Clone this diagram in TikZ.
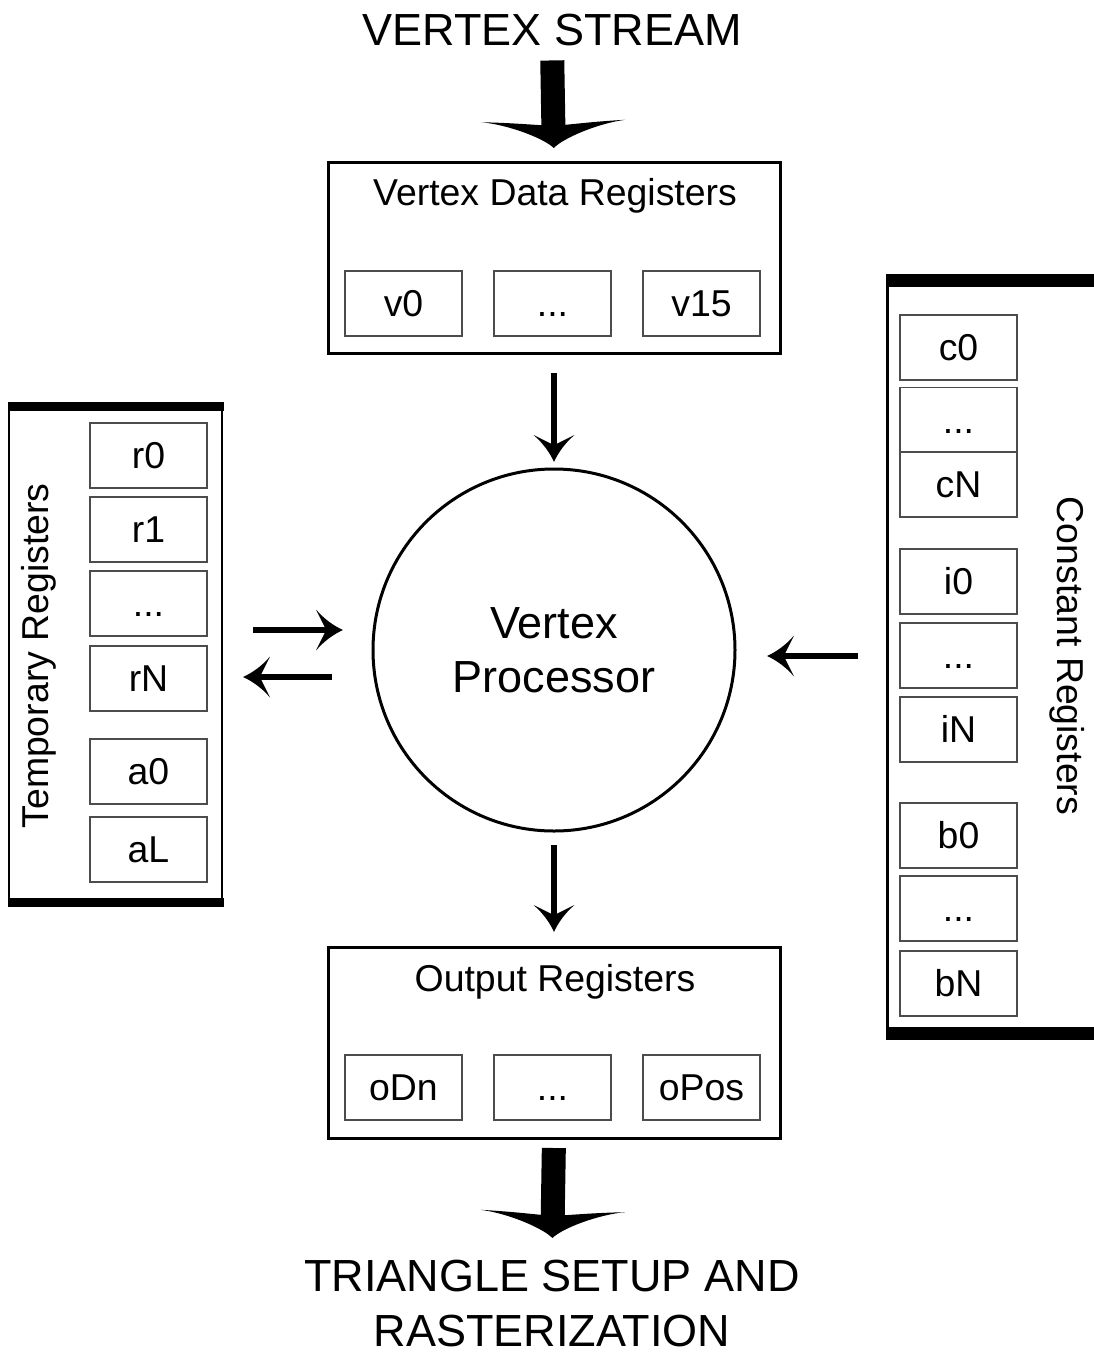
\documentclass[tikz,border=0pt]{standalone}
\usepackage{fontspec}
\setmainfont{Liberation Sans}
\usetikzlibrary{arrows.meta}

\newcommand\myRegFont{\fontsize{37.4}{44}\selectfont}
\newcommand\myBigFont{\fontsize{45}{54}\selectfont}
\newcommand\myBigFontB{\fontsize{45}{55}\selectfont}

\pgfdeclarearrow{
  name = SmallHead,
  setup code = {
    \pgfarrowssettipend{0pt}
    \pgfarrowssetlineend{-16pt}
    \pgfarrowssetbackend{-27pt}
    \pgfarrowssetvisualbackend{-17pt}
  },
  drawing code = {
    \pgfpathmoveto{\pgfpointorigin}
    \pgfpathcurveto{\pgfpoint{-9pt}{4pt}}{\pgfpoint{-19pt}{11pt}}{\pgfpoint{-27pt}{20.5pt}}
    \pgfpathcurveto{\pgfpoint{-23pt}{12pt}}{\pgfpoint{-19pt}{5pt}}{\pgfpoint{-17pt}{0pt}}
    \pgfpathcurveto{\pgfpoint{-19pt}{-5pt}}{\pgfpoint{-23pt}{-12pt}}{\pgfpoint{-27pt}{-20.5pt}}
    \pgfpathcurveto{\pgfpoint{-19pt}{-11pt}}{\pgfpoint{-9pt}{-4pt}}{\pgfpointorigin}
    \pgfpathclose
    \pgfusepathqfill
  }
}

\pgfdeclarearrow{
  name = BigHead,
  setup code = {
    \pgfarrowssettipend{0pt}
    \pgfarrowssetlineend{-22pt}
    \pgfarrowssetbackend{-27pt}
    \pgfarrowssetvisualbackend{-23pt}
  },
  drawing code = {
    \pgfpathmoveto{\pgfpointorigin}
    \pgfpathcurveto{\pgfpoint{-10pt}{10pt}}{\pgfpoint{-24pt}{45pt}}{\pgfpoint{-27pt}{72pt}}
    \pgfpathcurveto{\pgfpoint{-26pt}{45pt}}{\pgfpoint{-24pt}{25pt}}{\pgfpoint{-23pt}{12pt}}
    \pgfpathlineto{\pgfpoint{-23pt}{-12pt}}
    \pgfpathcurveto{\pgfpoint{-24pt}{-25pt}}{\pgfpoint{-26pt}{-45pt}}{\pgfpoint{-27pt}{-72pt}}
    \pgfpathcurveto{\pgfpoint{-24pt}{-45pt}}{\pgfpoint{-10pt}{-10pt}}{\pgfpointorigin}
    \pgfpathclose
    \pgfusepathqfill
  }
}

\tikzset{
  box/.style={draw, line width=3pt, minimum width=452pt, minimum height=191pt, inner sep=0pt, outer sep=0pt},
  cell/.style={draw=black!70, line width=1.5pt, minimum width=117pt, minimum height=65pt, inner sep=0pt, outer sep=0pt, font=\myRegFont, text height=26.8pt, text depth=0pt},
  arr/.style={line width=6pt, -{SmallHead}},
  bigarr/.style={line width=24pt, -{BigHead}},
  lbl/.style={font=\myRegFont, inner sep=0pt, outer sep=0pt},
  bar/.style={fill=black},
}

\begin{document}
\begin{tikzpicture}[x=1pt, y=-1pt]
\useasboundingbox (0,0) rectangle (1094,1353);

% titles
\node[font=\myBigFont, inner sep=0pt, outer sep=0pt, anchor=base] (title) at (552,45) {VERTEX STREAM};
\node[font=\myBigFontB, inner sep=0pt, outer sep=0pt, anchor=north, align=center] (bottom) at (552,1260) {TRIANGLE SETUP AND\\RASTERIZATION};

% vertex data registers
\node[box] (vdr) at (554,257.5) {};
\node[lbl, anchor=base] (vdrlbl) at (555,205) {Vertex Data Registers};
\node[cell] (v0) at (403.5,303.5) {v0};
\node[cell] (vdots) at (552.5,303.5) {...};
\node[cell] (v15) at (701.5,303.5) {v15};

% output registers
\node[box] (out) at (554,1042.5) {};
\node[lbl, anchor=base] (outlbl) at (555,991) {Output Registers};
\node[cell] (oDn) at (403.5,1087.5) {oDn};
\node[cell] (odots) at (552.5,1087.5) {...};
\node[cell] (oPos) at (701.5,1087.5) {oPos};

% vertex processor
\node[circle, draw, line width=3pt, minimum size=362pt, inner sep=0pt, outer sep=0pt, align=center, font=\myBigFont] (vp) at (554,650) {Vertex\\Processor};

% temporary registers panel
\node[draw, line width=2.5pt, minimum width=213pt, minimum height=495pt, inner sep=0pt, outer sep=0pt] (tmp) at (115.5,654.5) {};
\fill[bar] (8,402) rectangle (223.5,411);
\fill[bar] (8,898) rectangle (223.5,907);
\node[lbl, rotate=90, anchor=base] (tmplbl) at (48,656) {Temporary Registers};
\node[cell] (r0) at (148.5,455.5) {r0};
\node[cell] (r1) at (148.5,529.5) {r1};
\node[cell] (rdots) at (148.5,603.5) {...};
\node[cell] (rN) at (148.5,678.5) {rN};
\node[cell] (a0) at (148.5,771.5) {a0};
\node[cell] (aL) at (148.5,849.5) {aL};

% constant registers panel
\node[minimum width=210pt, minimum height=760pt, inner sep=0pt, outer sep=0pt] (cst) at (992,657) {};
\draw[line width=3pt] (cst.north west) -- (cst.south west);
\fill[bar] (885.5,274) rectangle (1094,287);
\fill[bar] (885.5,1027) rectangle (1094,1040);
\node[lbl, rotate=-90, anchor=base] (cstlbl) at (1057,656) {Constant Registers};
\node[cell] (c0) at (958.5,347.5) {c0};
\node[cell] (cdots) at (958.5,420) {...};
\node[cell] (cN) at (958.5,484.5) {cN};
\node[cell] (i0) at (958.5,581.5) {i0};
\node[cell] (idots) at (958.5,655.5) {...};
\node[cell] (iN) at (958.5,729.5) {iN};
\node[cell] (b0) at (958.5,835.5) {b0};
\node[cell] (bdots) at (958.5,908.5) {...};
\node[cell] (bN) at (958.5,983.5) {bN};

% connectors
\draw[bigarr, shorten <=15pt, shorten >=14pt] (title.south) -- (vdr.north);
\draw[arr, shorten <=20pt, shorten >=7pt] (vdr.south) -- (vp.north);
\draw[arr, shorten <=14pt, shorten >=15pt] (vp.south) -- (out.north);
\draw[bigarr, shorten <=10pt, shorten >=22pt] (out.south) -- (bottom.north);
\draw[arr, shorten <=31pt, shorten >=30pt] ([yshift=24.5pt]tmp.east) -- ([yshift=20pt]vp.west);
\draw[arr, shorten <=41pt, shorten >=21pt] ([yshift=-27pt]vp.west) -- ([yshift=-22.5pt]tmp.east);
\draw[arr, shorten <=29pt, shorten >=32pt] ([yshift=1pt]cst.west) -- ([yshift=-6pt]vp.east);
\end{tikzpicture}
\end{document}
